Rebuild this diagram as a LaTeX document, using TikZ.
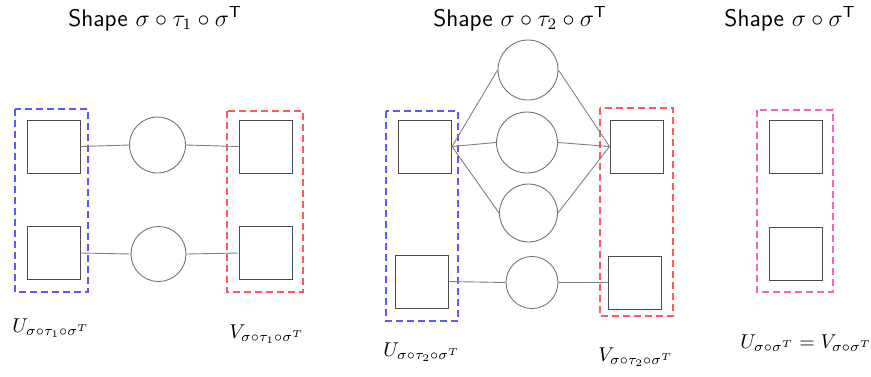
\documentclass[tikz,border=0pt]{standalone}
\usepackage{amsmath}
\begin{document}
\begin{tikzpicture}[x=0.5pt,y=-0.5pt,
  sq/.style={draw=black!70,line width=0.5pt,minimum size=26.5pt,inner sep=0pt},
  circ/.style={draw=black!55,line width=0.45pt,circle,inner sep=0pt},
  conn/.style={draw=black!50,line width=0.45pt},
  grp/.style={line width=0.7pt,dash pattern=on 3.5pt off 2pt},
  ttl/.style={anchor=base,inner sep=0pt,font=\large},
  lbl/.style={anchor=base west,inner sep=0pt}]
\useasboundingbox (0,0) rectangle (871,376);
% titles
\node[ttl] (t1) at (155,26) {\textsf{Shape} $\sigma\circ\tau_1\circ\sigma^{\mathsf{T}}$};
\node[ttl] (t2) at (520,26) {\textsf{Shape} $\sigma\circ\tau_2\circ\sigma^{\mathsf{T}}$};
\node[ttl] (t3) at (790,26) {\textsf{Shape} $\sigma\circ\sigma^{\mathsf{T}}$};
% panel 1
\node[sq] (L1a) at (53.5,146.5) {};
\node[sq] (L1b) at (53.5,253) {};
\node[circ,minimum size=28pt] (C1a) at (157.5,145) {};
\node[circ,minimum size=27.5pt] (C1b) at (158.5,254) {};
\node[sq] (R1a) at (265.5,146.5) {};
\node[sq] (R1b) at (265.5,253) {};
\draw[grp,draw=blue!65] (15,109) rectangle (88,292);
\draw[grp,draw=red!65] (227,111) rectangle (303,292);
\draw[conn] (L1a.east) -- (C1a.west);
\draw[conn] (C1a.east) -- (R1a.west);
\draw[conn] (L1b.east) -- (C1b.west);
\draw[conn] (C1b.east) -- (R1b.west);
\node[lbl] (U1) at (12,332) {$U_{\sigma\circ\tau_1\circ\sigma^T}$};
\node[lbl] (V1) at (229,338) {$V_{\sigma\circ\tau_1\circ\sigma^T}$};
% panel 2
\node[sq] (L2a) at (425,146.5) {};
\node[sq] (L2b) at (421.5,281.5) {};
\node[circ,minimum size=30pt] (C2a) at (528,70) {};
\node[circ,minimum size=30.5pt] (C2b) at (527,142.5) {};
\node[circ,minimum size=29pt] (C2c) at (528.5,213) {};
\node[circ,minimum size=26pt] (C2d) at (532,282.5) {};
\node[sq] (R2a) at (636.5,146.5) {};
\node[sq] (R2b) at (635,282.5) {};
\draw[grp,draw=blue!65] (386,111) rectangle (458,321);
\draw[grp,draw=red!65] (600,108) rectangle (673,316);
\draw[conn] (L2a.east) -- (C2a.west);
\draw[conn] (L2a.east) -- (C2b.west);
\draw[conn] (L2a.east) -- (C2c.west);
\draw[conn] (C2a.east) -- (R2a.west);
\draw[conn] (C2b.east) -- (R2a.west);
\draw[conn] (C2c.east) -- (R2a.west);
\draw[conn] (L2b.east) -- (C2d.west);
\draw[conn] (C2d.east) -- (R2b.west);
\node[lbl] (U2) at (383,356) {$U_{\sigma\circ\tau_2\circ\sigma^T}$};
\node[lbl] (V2) at (598,361) {$V_{\sigma\circ\tau_2\circ\sigma^T}$};
% panel 3
\node[sq] (S3a) at (796,146.5) {};
\node[sq] (S3b) at (796,253.5) {};
\draw[grp,draw=magenta!60] (757,110) rectangle (833,292);
\node[lbl] (UV) at (740,348) {$U_{\sigma\circ\sigma^T}=V_{\sigma\circ\sigma^T}$};
\end{tikzpicture}
\end{document}
